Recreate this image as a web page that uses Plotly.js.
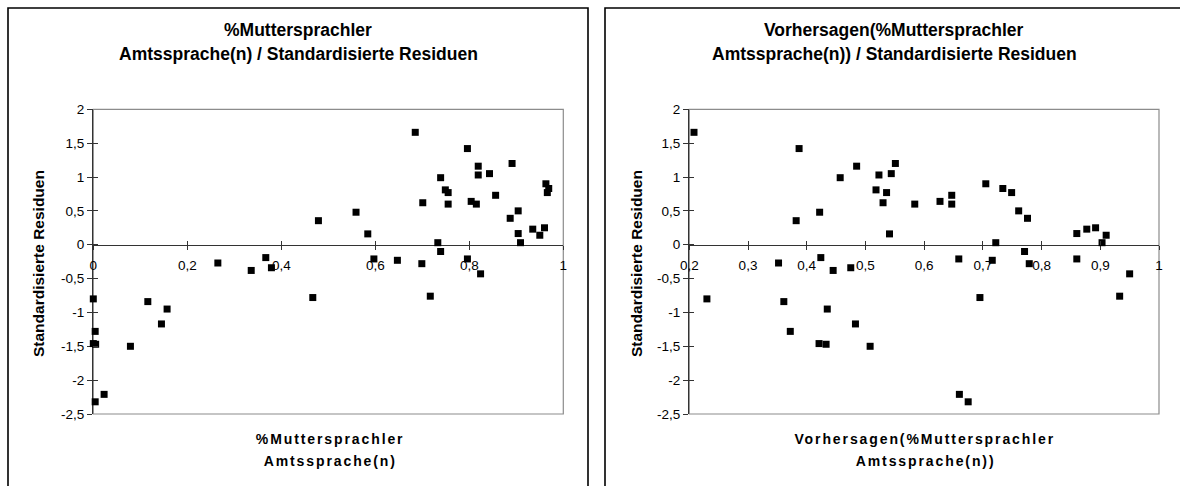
<!DOCTYPE html>
<html>
<head>
<meta charset="utf-8">
<script src="https://cdn.plot.ly/plotly-3.0.1.min.js"></script>
<style>
  html, body { margin: 0; padding: 0; background: #fff; }
  #chart { width: 1180px; height: 486px; }
</style>
</head>
<body>
<div id="chart"></div>
<script>
// Share of native speakers of the official language(s), one value per country
const share = [0.685, 0.796, 0.891, 0.819, 0.843, 0.819, 0.739, 0.963, 0.969, 0.749,
               0.755, 0.966, 0.856, 0.804, 0.701, 0.755, 0.815, 0.904, 0.559, 0.887,
               0.479, 0.960, 0.935, 0.904, 0.584, 0.950, 0.909, 0.733, 0.739, 0.367,
               0.597, 0.796, 0.647, 0.265, 0.699, 0.379, 0.336, 0.824, 0.717, 0.467,
               0.000, 0.116, 0.157, 0.145, 0.004, 0.000, 0.005, 0.079, 0.023, 0.004];

// Fitted values of the regression for the same countries
const predicted = [0.208, 0.387, 0.551, 0.485, 0.544, 0.523, 0.457, 0.705, 0.734, 0.518,
                   0.536, 0.749, 0.647, 0.627, 0.530, 0.584, 0.647, 0.761, 0.422, 0.776,
                   0.382, 0.892, 0.877, 0.860, 0.541, 0.910, 0.903, 0.722, 0.771, 0.424,
                   0.659, 0.860, 0.716, 0.352, 0.779, 0.475, 0.445, 0.950, 0.933, 0.695,
                   0.230, 0.361, 0.435, 0.483, 0.372, 0.421, 0.433, 0.508, 0.660, 0.675];

// Standardised residuals
const residuals = [1.66, 1.42, 1.20, 1.16, 1.05, 1.03, 0.99, 0.90, 0.83, 0.81,
                   0.77, 0.77, 0.73, 0.64, 0.62, 0.60, 0.60, 0.50, 0.48, 0.39,
                   0.355, 0.25, 0.23, 0.165, 0.16, 0.14, 0.03, 0.03, -0.10, -0.19,
                   -0.21, -0.21, -0.23, -0.27, -0.28, -0.34, -0.38, -0.43, -0.76, -0.78,
                   -0.80, -0.84, -0.95, -1.17, -1.28, -1.46, -1.47, -1.50, -2.21, -2.32];

// Tick labels (German decimal comma)
const yTickVals = [-2.5, -2, -1.5, -1, -0.5, 0, 0.5, 1, 1.5, 2];
const yTickText = ['-2,5', '-2', '-1,5', '-1', '-0,5', '0', '0,5', '1', '1,5', '2'];
const xTickValsLeft = [0, 0.2, 0.4, 0.6, 0.8, 1];
const xTickTextLeft = ['0', '0,2', '0,4', '0,6', '0,8', '1'];
const xTickValsRight = [0.2, 0.3, 0.4, 0.5, 0.6, 0.7, 0.8, 0.9, 1];
const xTickTextRight = ['0,2', '0,3', '0,4', '0,5', '0,6', '0,7', '0,8', '0,9', '1'];

// Chart texts
const titleLeft = ['%Muttersprachler', 'Amtssprache(n) / Standardisierte Residuen'];
const titleRight = ['Vorhersagen(%Muttersprachler', 'Amtssprache(n)) / Standardisierte Residuen'];
const xTitleLeft = ['%Muttersprachler', 'Amtssprache(n)'];
const xTitleRight = ['Vorhersagen(%Muttersprachler', 'Amtssprache(n))'];
const yTitle = 'Standardisierte Residuen';

const W = 1180, H = 486;
const px = v => v / W;
const py = v => 1 - v / H;

const FONT = 'Liberation Sans, Arial, Helvetica, sans-serif';
const AXIS_DARK = '#333333';
const FRAME_GREY = '#8c8c8c';

const yDomain = [py(414), py(109.3)];
const leftDomain = [px(93.3), px(563.3)];
const rightDomain = [px(689.3), px(1159)];
// paper position of the zero line, where the x axes sit
const zeroPos = yDomain[0] + (yDomain[1] - yDomain[0]) * (2.5 / 4.5);

const marker = { symbol: 'square', size: 7, color: '#000000', line: { width: 0 } };

const traces = [
  { type: 'scatter', mode: 'markers', x: share, y: residuals, xaxis: 'x', yaxis: 'y',
    marker: marker, cliponaxis: false, hoverinfo: 'x+y' },
  { type: 'scatter', mode: 'markers', x: predicted, y: residuals, xaxis: 'x2', yaxis: 'y2',
    marker: marker, cliponaxis: false, hoverinfo: 'x+y' },
  // carriers for the inward half of the crossing tick marks
  { type: 'scatter', mode: 'markers', x: [], y: [], xaxis: 'x3', yaxis: 'y3', showlegend: false, hoverinfo: 'skip' },
  { type: 'scatter', mode: 'markers', x: [], y: [], xaxis: 'x4', yaxis: 'y4', showlegend: false, hoverinfo: 'skip' }
];

const tickFont = { family: FONT, size: 13.5, color: '#000000' };

function xAxis(domain, range, vals, text) {
  return {
    domain: domain, range: range, anchor: 'free', position: zeroPos,
    tickmode: 'array', tickvals: vals, ticktext: text,
    ticks: 'outside', ticklen: 4, tickwidth: 1, tickcolor: AXIS_DARK,
    showline: true, linecolor: AXIS_DARK, linewidth: 1.3,
    showgrid: false, zeroline: false, tickfont: tickFont,
    ticklabelstandoff: 4, fixedrange: true, layer: 'below traces'
  };
}
function xAxisInner(base, range, vals) {
  return {
    overlaying: base, range: range, anchor: 'free', position: zeroPos,
    tickmode: 'array', tickvals: vals, showticklabels: false,
    ticks: 'inside', ticklen: 4, tickwidth: 1, tickcolor: AXIS_DARK,
    showline: false, showgrid: false, zeroline: false, fixedrange: true
  };
}
function yAxis(anchor) {
  return {
    domain: yDomain, range: [-2.5, 2], anchor: anchor,
    tickmode: 'array', tickvals: yTickVals, ticktext: yTickText,
    ticks: 'outside', ticklen: 5, tickwidth: 1, tickcolor: AXIS_DARK,
    showline: true, linecolor: AXIS_DARK, linewidth: 1.3,
    showgrid: false, zeroline: false, tickfont: tickFont,
    ticklabelstandoff: 0, fixedrange: true, layer: 'below traces'
  };
}
function yAxisInner(base, anchor) {
  return {
    overlaying: base, range: [-2.5, 2], anchor: anchor, side: 'left',
    tickmode: 'array', tickvals: yTickVals, showticklabels: false,
    ticks: 'inside', ticklen: 5, tickwidth: 1, tickcolor: AXIS_DARK,
    showline: false, showgrid: false, zeroline: false, fixedrange: true
  };
}

const ann = (text, x, y, size, opts) => Object.assign({
  text: text, x: px(x), y: py(y), xref: 'paper', yref: 'paper',
  xanchor: 'center', yanchor: 'middle', showarrow: false,
  font: { family: FONT, size: size, color: '#000000', weight: 'bold' }
}, opts || {});

const annotations = [
  ann('<b>' + titleLeft[0] + '</b>', 298, 30, 17.5),
  ann('<b>' + titleLeft[1] + '</b>', 298, 54, 17.5),
  ann('<b>' + titleRight[0] + '</b>', 894, 30, 17.5),
  ann('<b>' + titleRight[1] + '</b>', 894, 54, 17.5),
  ann('<b>' + yTitle + '</b>', 38, 264, 15.5, { textangle: -90 }),
  ann('<b>' + yTitle + '</b>', 636, 264, 15.5, { textangle: -90 }),
  ann('<b>' + xTitleLeft[0] + '</b>', 330, 439, 14),
  ann('<b>' + xTitleLeft[1] + '</b>', 330, 461, 14),
  ann('<b>' + xTitleRight[0] + '</b>', 925, 439, 14),
  ann('<b>' + xTitleRight[1] + '</b>', 925, 461, 14)
];

const shapes = [
  // panel frames
  { type: 'rect', xref: 'paper', yref: 'paper', x0: px(8), x1: px(588), y0: -0.02, y1: py(8),
    line: { color: '#000000', width: 1.6 }, fillcolor: 'rgba(0,0,0,0)', layer: 'below' },
  { type: 'rect', xref: 'paper', yref: 'paper', x0: px(605), x1: 1.02, y0: -0.02, y1: py(8),
    line: { color: '#000000', width: 1.6 }, fillcolor: 'rgba(0,0,0,0)', layer: 'below' },
  // plot-area borders
  { type: 'rect', xref: 'x domain', yref: 'y domain', x0: 0, x1: 1, y0: 0, y1: 1,
    line: { color: FRAME_GREY, width: 1.2 }, fillcolor: 'rgba(0,0,0,0)', layer: 'below' },
  { type: 'rect', xref: 'x2 domain', yref: 'y2 domain', x0: 0, x1: 1, y0: 0, y1: 1,
    line: { color: FRAME_GREY, width: 1.2 }, fillcolor: 'rgba(0,0,0,0)', layer: 'below' }
];

const layout = {
  width: W, height: H,
  margin: { l: 0, r: 0, t: 0, b: 0 },
  paper_bgcolor: '#ffffff', plot_bgcolor: '#ffffff',
  showlegend: false,
  font: { family: FONT, color: '#000000' },
  xaxis: xAxis(leftDomain, [0, 1], xTickValsLeft, xTickTextLeft),
  yaxis: yAxis('x'),
  xaxis2: xAxis(rightDomain, [0.2, 1], xTickValsRight, xTickTextRight),
  yaxis2: yAxis('x2'),
  xaxis3: xAxisInner('x', [0, 1], xTickValsLeft),
  yaxis3: yAxisInner('y', 'x3'),
  xaxis4: xAxisInner('x2', [0.2, 1], xTickValsRight),
  yaxis4: yAxisInner('y2', 'x4'),
  annotations: annotations,
  shapes: shapes
};

Plotly.newPlot('chart', traces, layout, { staticPlot: true, displayModeBar: false }).then(gd => {
  // the axis captions are set with wide letter spacing
  const groups = gd.querySelectorAll('.annotation');
  groups.forEach(g => {
    const idx = +g.getAttribute('data-index');
    if (idx >= 6) {
      const t = g.querySelector('text');
      if (t) t.style.letterSpacing = '1.9px';
    }
  });
});
</script>
</body>
</html>
